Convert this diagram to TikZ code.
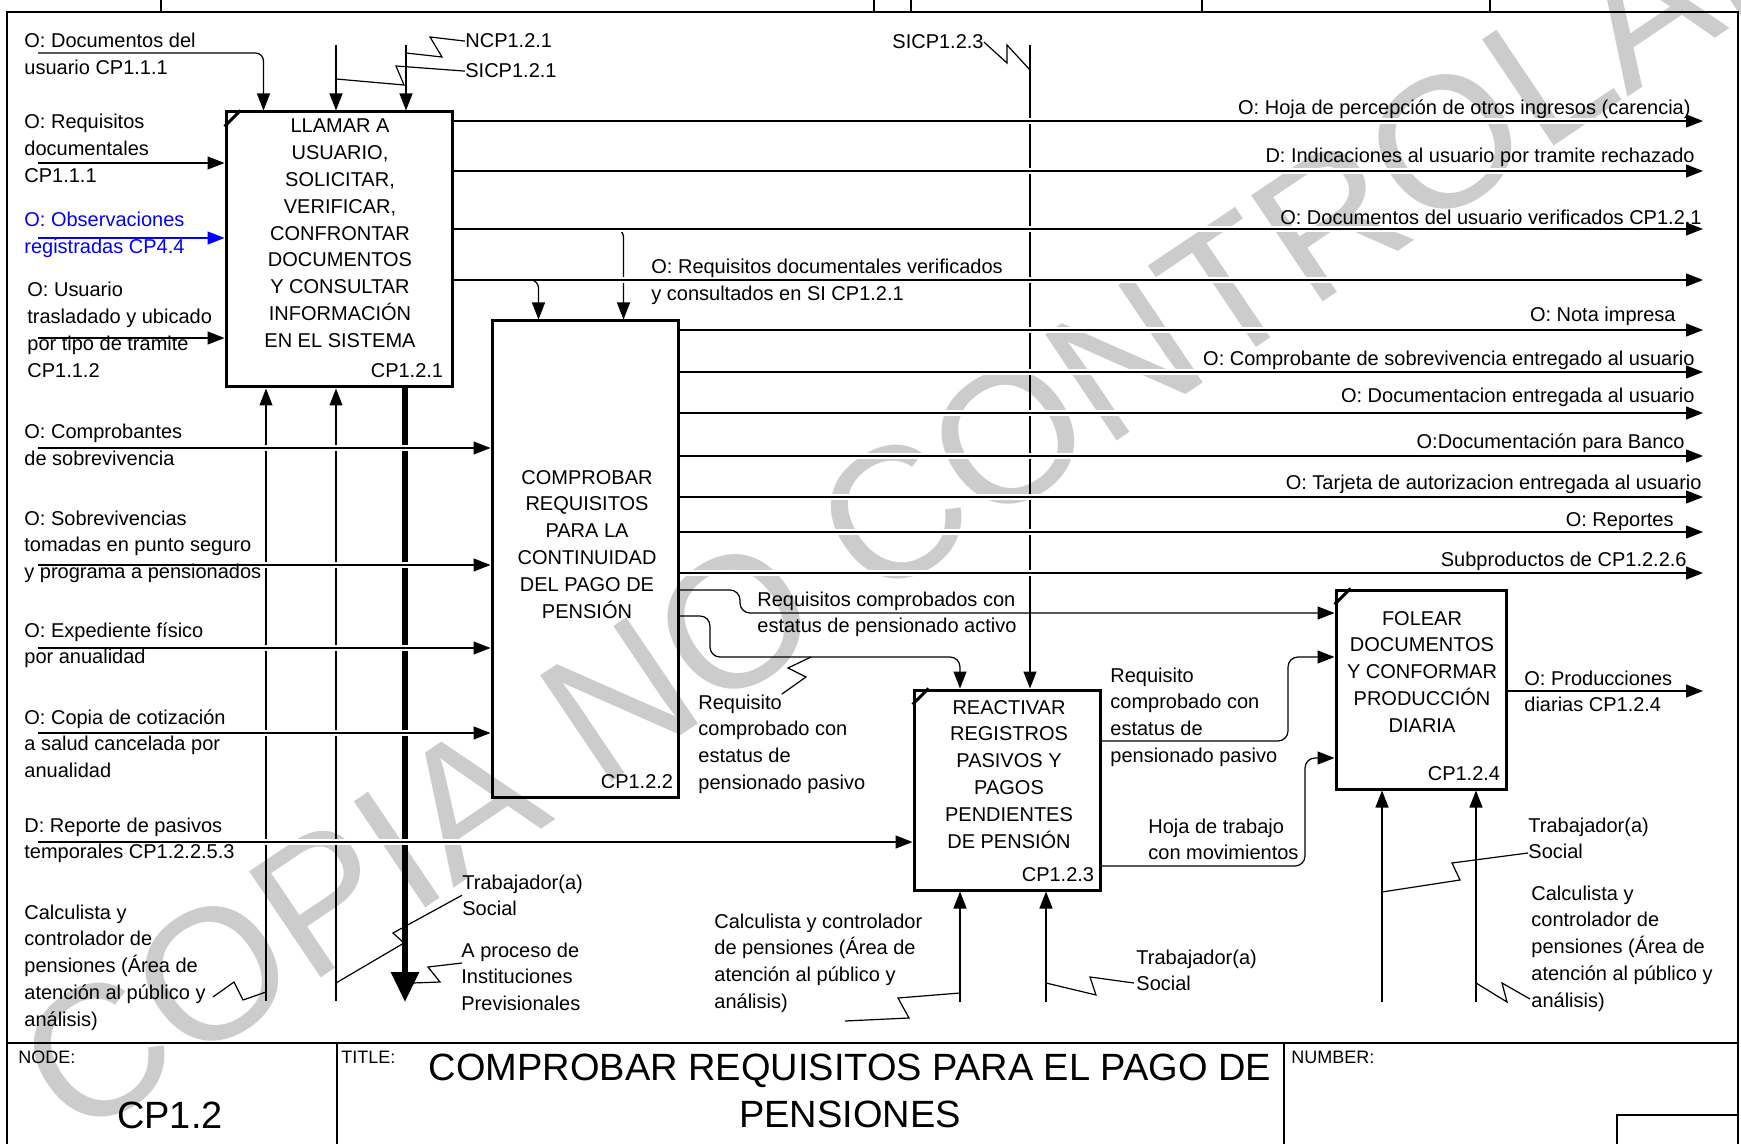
\documentclass[tikz,border=0pt]{standalone}
\usepackage{fontspec}
\setmainfont{Liberation Sans}
\usetikzlibrary{arrows.meta,calc}

\newcommand{\lblfont}{\fontsize{10}{13.4}\selectfont}

\tikzset{
  box/.style={draw, line width=1.5pt, inner sep=0pt},
  flow/.style={line width=0.6pt, -{Triangle[length=8.5pt,width=6.5pt]}},
  bigflow/.style={line width=3pt, -{Triangle[length=15pt,width=13.5pt]}},
  cross/.style={preaction={draw=white, line width=3pt, -, shorten <=2pt, shorten >=2pt}},
  wire/.style={line width=0.6pt},
  lbl/.style={font=\lblfont, inner sep=0pt, align=left, anchor=base west},
  rlbl/.style={font=\lblfont, inner sep=0pt, anchor=base east},
  boxtxt/.style={font=\lblfont, inner sep=0pt, align=center, anchor=base},
  small/.style={font=\fontsize{9}{10}\selectfont, inner sep=0pt, anchor=west},
  frame/.style={line width=1pt},
  corner/.style={line width=1.5pt},
  wmark/.style={rotate=34, text=black!20, inner sep=0pt, font=\fontsize{93}{93}\selectfont},
}

\begin{document}
\begin{tikzpicture}[x=0.5pt, y=-0.5pt]
    \useasboundingbox (0,0) rectangle (1741,1144);

    % marca de agua
    \node[wmark] (wm) at (975,460) {COPIA NO CONTROLADA};

    % marco
    \draw[frame] (7,1144) -- (7,12) -- (1738,12) -- (1738,1144);
    \foreach \x in {161,874,911,1202,1490}
        \draw[wire] (\x,0) -- (\x,12);
    \draw[frame] (7,1043) -- (1738,1043);
    \draw[frame] (337,1043) -- (337,1144);
    \draw[frame] (1284,1043) -- (1284,1144);
    \draw[frame] (1617,1144) -- (1617,1115) -- (1738,1115);

    % cajas
    \node[box, minimum width=113pt, minimum height=137.5pt] (b1) at (339,249.5) {};
    \node[box, minimum width=93pt, minimum height=238pt] (b2) at (585,559) {};
    \node[box, minimum width=93pt, minimum height=100pt] (b3) at (1007,790) {};
    \node[box, minimum width=85pt, minimum height=99.5pt] (b4) at (1421,689.5) {};
    \foreach \b in {b1,b3,b4}
        \draw[corner] ([yshift=-8pt]\b.north west) -- ([xshift=8pt]\b.north west);

    % extremos libres
    \coordinate (in1) at (38,53);
    \coordinate (in2) at (38,163);
    \coordinate (in3) at (38,238);
    \coordinate (in4) at (38,338);
    \coordinate (in5) at (38,448);
    \coordinate (in6) at (38,565);
    \coordinate (in7) at (38,648);
    \coordinate (in8) at (38,733);
    \coordinate (in9) at (38,842);
    \coordinate (ct1) at (336,45);
    \coordinate (ct2) at (406,45);
    \coordinate (ct3) at (1030,45);
    \coordinate (me1) at (266,1001);
    \coordinate (me2) at (336,1001);
    \coordinate (me3) at (960,1002);
    \coordinate (me4) at (1046,1002);
    \coordinate (me5) at (1382,1002);
    \coordinate (me6) at (1476,1002);
    \coordinate (sal) at (405,1002);

    % verticales
    \draw[flow, rounded corners=4pt] (in1) -| ($(b1.north west)+(39,0)$);
    \draw[flow] (ct1) -- (ct1 |- b1.north);
    \draw[flow] (ct2) -- (ct2 |- b1.north);
    \draw[flow] (ct3) -- (ct3 |- b3.north);
    \draw[flow] (me1) -- (me1 |- b1.south);
    \draw[flow] (me2) -- (me2 |- b1.south);
    \draw[bigflow] (sal |- b1.south) -- (sal);
    \coordinate (br1) at (600,229);
    \draw[flow, rounded corners=4pt] (br1) -| ($(b2.north west)+(133,0)$);

    % salidas de CP1.2.1
    \foreach \y [count=\i] in {121,171,229,280} {
        \coordinate (out\i) at (1703,\y);
        \draw[flow, cross] (out\i -| b1.east) -- (out\i);
    }
    \coordinate (br2) at (515,280);
    \draw[flow, rounded corners=4pt] (br2) -| ($(b2.north west)+(48,0)$);

    % salidas de CP1.2.2
    \foreach \y [count=\i from 5] in {330,372,413,456,497,532,573} {
        \coordinate (out\i) at (1703,\y);
        \draw[flow, cross] (out\i -| b2.east) -- (out\i);
    }

    % entradas
    \draw[flow, cross] (in2) -- (in2 -| b1.west);
    \draw[flow, cross, blue] (in3) -- (in3 -| b1.west);
    \draw[flow, cross] (in4) -- (in4 -| b1.west);
    \foreach \n in {in5,in6,in7,in8}
        \draw[flow, cross] (\n) -- (\n -| b2.west);
    \draw[flow, cross] (in9) -- (in9 -| b3.west);

    % entre cajas
    \coordinate (p1) at (740,590);
    \coordinate (p2) at (740,613);
    \draw[flow, rounded corners=5pt] (b2.east |- p1) -- (p1) -- (p2) -- (p2 -| b4.west);
    \coordinate (q1) at (710,616);
    \coordinate (q2) at (710,657);
    \coordinate (q3) at (960,657);
    \draw[flow, rounded corners=5pt] (b2.east |- q1) -- (q1) -- (q2) -- (q3) -- (q3 |- b3.north);
    \coordinate (r1) at (1288,741);
    \coordinate (r2) at (1288,657);
    \draw[flow, rounded corners=5pt] (b3.east |- r1) -- (r1) -- (r2) -- (r2 -| b4.west);
    \coordinate (s1) at (1305,866);
    \coordinate (s2) at (1305,758);
    \draw[flow, rounded corners=5pt] (b3.east |- s1) -- (s1) -- (s2) -- (s2 -| b4.west);

    \coordinate (out12) at (1703,691);
    \draw[flow] (out12 -| b4.east) -- (out12);
    \draw[flow] (me3) -- (me3 |- b3.south);
    \draw[flow] (me4) -- (me4 |- b3.south);
    \draw[flow] (me5) -- (me5 |- b4.south);
    \draw[flow] (me6) -- (me6 |- b4.south);

    % textos de cajas (base = ultima linea)
    \node[boxtxt] (b1t) at (340,347.4) {LLAMAR A\\USUARIO,\\SOLICITAR,\\VERIFICAR,\\CONFRONTAR\\DOCUMENTOS\\Y CONSULTAR\\INFORMACIÓN\\EN EL SISTEMA};
    \node[rlbl] (b1n) at ([shift={(-10,-11)}]b1.south east) {CP1.2.1};
    \node[boxtxt] (b2t) at (587,618) {COMPROBAR\\REQUISITOS\\PARA LA\\CONTINUIDAD\\DEL PAGO DE\\PENSIÓN};
    \node[rlbl] (b2n) at ([shift={(-6,-10)}]b2.south east) {CP1.2.2};
    \node[boxtxt] (b3t) at (1009,848) {REACTIVAR\\REGISTROS\\PASIVOS Y\\PAGOS\\PENDIENTES\\DE PENSIÓN};
    \node[rlbl] (b3n) at ([shift={(-7,-10)}]b3.south east) {CP1.2.3};
    \node[boxtxt] (b4t) at (1422,732.2) {FOLEAR\\DOCUMENTOS\\Y CONFORMAR\\PRODUCCIÓN\\DIARIA};
    \node[rlbl] (b4n) at ([shift={(-7,-10)}]b4.south east) {CP1.2.4};

    % etiquetas de la izquierda
    \node[lbl] (l1) at (24,74.8) {O: Documentos del\\usuario CP1.1.1};
    \node[lbl] (l2) at (24,182.6) {O: Requisitos\\documentales\\CP1.1.1};
    \node[lbl, text=blue] (l3) at (24,253.8) {O: Observaciones\\registradas CP4.4};
    \node[lbl] (l4) at (27,377.4) {O: Usuario\\trasladado y ubicado\\por tipo de tramite\\CP1.1.2};
    \node[lbl] (l5) at (24,465.8) {O: Comprobantes\\de sobrevivencia};
    \node[lbl] (l6) at (24,578.6) {O: Sobrevivencias\\tomadas en punto seguro\\y programa a pensionados};
    \node[lbl] (l7) at (24,663.8) {O: Expediente físico\\por anualidad};
    \node[lbl] (l8) at (24,777.6) {O: Copia de cotización\\a salud cancelada por\\anualidad};
    \node[lbl] (l9) at (24,858.8) {D: Reporte de pasivos\\temporales CP1.2.2.5.3};
    \node[lbl] (l10) at (24,1026.2) {Calculista y\\controlador de\\pensiones (Área de\\atención al público y\\análisis)};

    % etiquetas de arriba
    \node[lbl] (ncp) at (465,48) {NCP1.2.1};
    \node[lbl] (sicp1) at (465,78) {SICP1.2.1};
    \node[rlbl] (sicp3) at (984,49) {SICP1.2.3};
    \draw[wire] (ncp.west) -- (430,37) -- (442,57) -- (406,53);
    \draw[wire] (sicp1.west) -- (396,66) -- (404,85) -- (336,79);
    \draw[wire] (sicp3.east) -- (1007,63) -- (1007,45) -- (1030,70);

    % etiquetas de la derecha
    \node[rlbl] (o1t) at (1691,115) {O: Hoja de percepción de otros ingresos (carencia)};
    \node[rlbl] (o2t) at (1695,163) {D: Indicaciones al usuario por tramite rechazado};
    \node[rlbl] (o3t) at (1702,225) {O: Documentos del usuario verificados CP1.2.1};
    \node[lbl] (o4t) at (651,300.8) {O: Requisitos documentales verificados\\y consultados en SI CP1.2.1};
    \node[rlbl] (o5t) at (1676,322) {O: Nota impresa};
    \node[rlbl] (o6t) at (1695,366) {O: Comprobante de sobrevivencia entregado al usuario};
    \node[rlbl] (o7t) at (1695,403) {O: Documentacion entregada al usuario};
    \node[rlbl] (o8t) at (1685,449) {O:Documentación para Banco};
    \node[rlbl] (o9t) at (1702,490) {O: Tarjeta de autorizacion entregada al usuario};
    \node[rlbl] (o10t) at (1674,527) {O: Reportes};
    \node[rlbl] (o11t) at (1687,567) {Subproductos de CP1.2.2.6};
    \node[lbl] (o12t) at (1524,711.8) {O: Producciones\\diarias CP1.2.4};

    % etiquetas entre cajas
    \node[lbl] (act) at (757,632.8) {Requisitos comprobados con\\estatus de pensionado activo};
    \node[lbl] (pas1) at (698,789.4) {Requisito\\comprobado con\\estatus de\\pensionado pasivo};
    \draw[wire] (pas1.north) -- (806,677) -- (788,668) -- (811,657);
    \node[lbl] (pas2) at (1110,762.4) {Requisito\\comprobado con\\estatus de\\pensionado pasivo};
    \node[lbl] (hoja) at (1148,859.8) {Hoja de trabajo\\con movimientos};

    % mecanismos
    \draw[wire] (213,997) -- (234,982) -- (243,1000) -- (266,992);
    \node[lbl] (tra1) at (462,915.8) {Trabajador(a)\\Social};
    \draw[wire] (tra1.west) -- (393,933) -- (404,943) -- (336,983);
    \node[lbl] (apr) at (461,1010.6) {A proceso de\\Instituciones\\Previsionales};
    \draw[wire] (462,963) -- (428,967) -- (440,982) -- (413,983);
    \node[lbl] (cal3) at (714,1008.4) {Calculista y controlador\\de pensiones (Área de\\atención al público y\\análisis)};
    \draw[wire] (845,1021) -- (909,1018) -- (898,998) -- (960,993);
    \node[lbl] (tra3) at (1136,990.8) {Trabajador(a)\\Social};
    \draw[wire] (1134,983) -- (1090,977) -- (1096,995) -- (1046,983);
    \node[lbl] (tra4) at (1528,858.8) {Trabajador(a)\\Social};
    \draw[wire] (1528,853) -- (1452,863) -- (1460,880) -- (1382,892);
    \node[lbl] (cal4) at (1531,1007.2) {Calculista y\\controlador de\\pensiones (Área de\\atención al público y\\análisis)};
    \draw[wire] (1476,983) -- (1507,1002) -- (1502,983) -- (1530,999);

    % pie
    \node[small] (nodelbl) at (18,1057) {NODE:};
    \node[small] (titlelbl) at (341,1057) {TITLE:};
    \node[small] (numlbl) at (1291,1057) {NUMBER:};
    \node[font=\fontsize{19}{22}\selectfont, inner sep=0pt] (nodenum) at (170,1115) {CP1.2};
    \node[font=\fontsize{19}{23.5}\selectfont, inner sep=0pt, align=center] (title) at (850,1090.5) {COMPROBAR REQUISITOS PARA EL PAGO DE\\PENSIONES};
\end{tikzpicture}
\end{document}
